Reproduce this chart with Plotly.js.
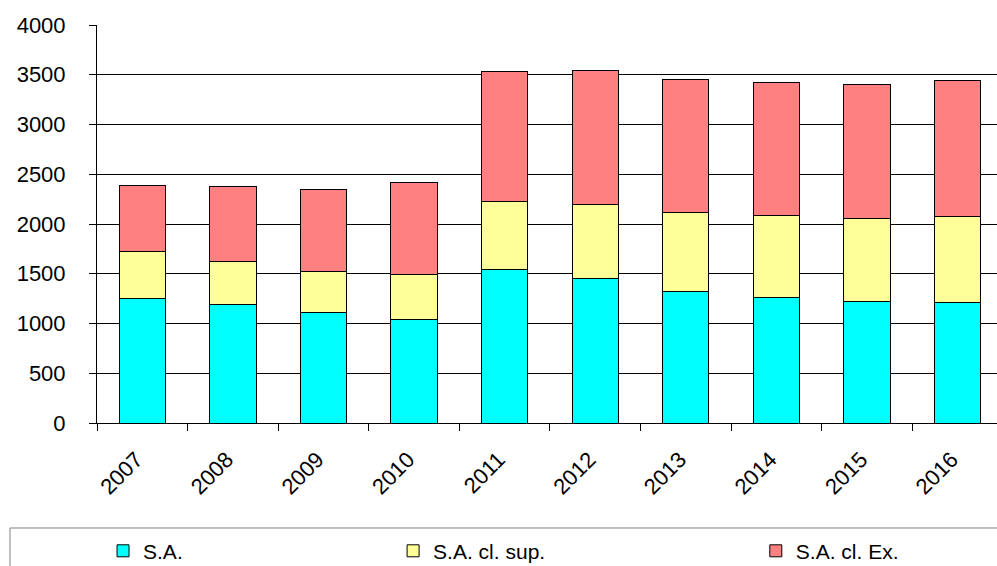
<!DOCTYPE html>
<html>
<head>
<meta charset="utf-8">
<script src="https://cdn.plot.ly/plotly-3.0.1.min.js"></script>
<style>html,body{margin:0;padding:0;overflow:hidden;background:#fff}</style>
</head>
<body>
<div id="chart" style="width:997px;height:566px"></div>
<script>
const years = ['2007','2008','2009','2010','2011','2012','2013','2014','2015','2016'];
const sa    = [1256,1196,1106,1045,1541,1454,1323,1263,1223,1209];
const saSup = [466,429,419,449,683,744,794,827,834,868];
const saEx  = [663,754,817,928,1311,1343,1340,1337,1343,1363];
const seriesNames = ['S.A.','S.A. cl. sup.','S.A. cl. Ex.'];
const colors = ['#00FFFF','#FFFF99','#FF8080'];

const font = {family:'"Liberation Sans", Arial, sans-serif', color:'#000'};
const vals = [sa, saSup, saEx];
const legendIds = ['legend','legend2','legend3'];
const traces = vals.map((v,i)=>({
  type:'bar', x:years, y:v, name:seriesNames[i],
  marker:{color:colors[i], line:{color:'#000', width:1}},
  width:0.51, legend:legendIds[i], hoverinfo:'x+y+name'
}));

const legBase = {orientation:'h', yanchor:'middle', xanchor:'left', y:-0.322,
  bgcolor:'rgba(0,0,0,0)', borderwidth:0, font:Object.assign({size:21}, font)};

const layout = {
  width:997, height:566,
  margin:{l:97, r:0, t:25, b:143, pad:0, autoexpand:false},
  paper_bgcolor:'#fff', plot_bgcolor:'#fff',
  barmode:'stack', bargap:0.49,
  font:Object.assign({size:21}, font),
  xaxis:{type:'category', range:[-0.5, 9.434], tickangle:-45, tickson:'boundaries', automargin:false,
    ticks:'outside', ticklen:7, tickcolor:'#000', showline:true, linecolor:'#000', linewidth:1,
    showgrid:false, tickfont:Object.assign({size:22}, font), ticklabelstandoff:14, ticklabelshift:-6,
    fixedrange:true},
  yaxis:{range:[0,4000], dtick:500, tick0:0, ticks:'outside', ticklen:7, tickcolor:'#000', automargin:false,
    showline:true, linecolor:'#000', linewidth:1, showgrid:true, gridcolor:'#000', gridwidth:1,
    zeroline:false, tickfont:Object.assign({size:22}, font), ticklabelstandoff:19, fixedrange:true},
  showlegend:true,
  legend:Object.assign({x:0.0067}, legBase),
  legend2:Object.assign({x:0.329}, legBase),
  legend3:Object.assign({x:0.732}, legBase),
  shapes:[{type:'rect', xref:'paper', yref:'paper', x0:-0.0967, x1:1.2, y0:-0.2638, y1:-0.5,
    line:{color:'#808080', width:1}, fillcolor:'rgba(0,0,0,0)', layer:'below'}]
};
Plotly.newPlot('chart', traces, layout, {displayModeBar:false, staticPlot:true});
</script>
</body>
</html>
